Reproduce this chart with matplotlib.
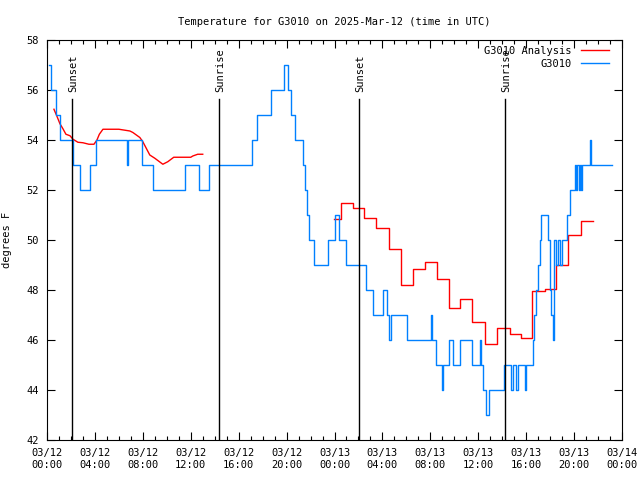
import matplotlib
matplotlib.use("Agg")
import matplotlib.pyplot as plt
import numpy as np

# hours since 03/12 00:00 UTC
obs_t = [0.17, 0.33, 0.75, 1.12, 2.17, 2.75, 3.58, 4.12, 6.67, 6.75, 7.92, 8.83,
         11.5, 12.71, 13.5, 17.12, 17.5, 18.67, 19.75, 20.08, 20.37, 20.71, 21.37,
         21.5, 21.67, 21.87, 22.25, 23.42, 24.08, 24.37, 24.92, 26.67, 27.25, 28.04,
         28.37, 28.58, 28.75, 30.08, 32.08, 32.17, 32.5, 33.0, 33.08, 33.58, 33.92,
         34.5, 35.5, 36.12, 36.21, 36.37, 36.62, 36.92, 38.17, 38.75, 38.87, 39.12,
         39.29, 39.87, 40.0, 40.54, 40.67, 40.83, 41.0, 41.12, 41.25, 41.79, 41.96,
         42.08, 42.21, 42.33, 42.5, 42.67, 42.83, 43.0, 43.37, 43.62, 44.08, 44.17,
         44.25, 44.37, 44.46, 44.58, 44.67, 45.29, 45.42, 47.17]
obs_v = [57, 56, 55, 54, 53, 52, 53, 54, 53, 54, 53, 52,
         53, 52, 53, 54, 55, 56, 57, 56, 55, 54, 53,
         52, 51, 50, 49, 50, 51, 50, 49, 48, 47, 48,
         47, 46, 47, 46, 47, 46, 45, 44, 45, 46, 45,
         46, 45, 46, 45, 44, 43, 44, 45, 44, 45, 44,
         45, 44, 45, 46, 47, 48, 49, 50, 51, 50, 48,
         47, 46, 50, 49, 50, 49, 50, 51, 52, 53, 52,
         53, 52, 53, 52, 53, 54, 53, 53]

# analysis, first day (smooth) and second day (hourly steps)
ana1_t = [0.58, 0.83, 1.08, 1.33, 1.58, 1.92, 2.17, 2.58, 3.0, 3.5, 3.92, 4.17, 4.37,
          4.67, 6.0, 6.92, 7.17, 7.75, 8.0, 8.58, 9.0, 9.67, 10.08, 10.58, 12.0,
          12.17, 12.58, 13.0]
ana1_v = [55.23, 54.95, 54.65, 54.45, 54.23, 54.17, 54.03, 53.91, 53.89, 53.83, 53.83,
          54.0, 54.23, 54.43, 54.43, 54.36, 54.3, 54.1, 53.93, 53.4, 53.27, 53.03,
          53.13, 53.31, 53.31, 53.36, 53.43, 53.43]
ana2_t = [23.92, 24.58, 25.58, 26.5, 27.5, 28.58, 29.54, 30.58, 31.58, 32.54, 33.52,
          34.46, 35.5, 36.58, 37.58, 38.62, 39.58, 40.52, 41.54, 42.5, 43.5, 44.58, 45.58]
ana2_v = [50.83, 51.47, 51.27, 50.9, 50.5, 49.63, 48.19, 48.83, 49.13, 48.44, 47.3,
          47.63, 46.72, 45.84, 46.47, 46.24, 46.07, 47.95, 48.03, 48.99, 50.2, 50.76, 50.76]

sun_t = [2.08, 14.35, 26.03, 38.27]
sun_lbl = ["Sunset", "Sunrise", "Sunset", "Sunrise"]

xtick_lbl = ["03/12\n00:00", "03/12\n04:00", "03/12\n08:00", "03/12\n12:00",
             "03/12\n16:00", "03/12\n20:00", "03/13\n00:00", "03/13\n04:00",
             "03/13\n08:00", "03/13\n12:00", "03/13\n16:00", "03/13\n20:00",
             "03/14\n00:00"]

plt.rcParams['font.family'] = ['DejaVu Sans Mono']
plt.rcParams['font.size'] = 7.5

fig = plt.figure(figsize=(6.4, 4.8), dpi=100)
ax = fig.add_axes([47/640, 40/480, 575/640, 400/480])

red = '#ff0000'
blue = '#0080ff'

ax.plot(ana1_t, ana1_v, color=red, lw=1, label="G3010 Analysis")
ax.plot(ana2_t, ana2_v, color=red, lw=1, drawstyle='steps-post')
ax.plot(obs_t, obs_v, color=blue, lw=1, drawstyle='steps-post', label="G3010")

for t, s in zip(sun_t, sun_lbl):
    ax.axvline(t, ymin=0, ymax=0.8525, color='black', lw=1)
    ax.text(t + 0.1, 55.9, s, rotation=90, ha='center', va='bottom', fontsize=7.5)

ax.set_xlim(0, 48)
ax.set_ylim(42, 58)
ax.set_xticks(np.arange(0, 49, 4))
ax.set_xticklabels(xtick_lbl)
ax.set_xticks(np.arange(0, 49, 1), minor=True)
ax.set_yticks(np.arange(42, 59, 2))
ax.tick_params(which='both', direction='in', top=True, right=True, width=0.8)
ax.tick_params(which='major', length=6, pad=6)
ax.tick_params(which='minor', length=3)
for sp in ax.spines.values():
    sp.set_linewidth(0.8)

ax.set_ylabel("degrees F", labelpad=10)
ax.set_title("Temperature for G3010 on 2025-Mar-12 (time in UTC)", fontsize=7.5, pad=11)

leg = ax.legend(loc='upper right', bbox_to_anchor=(0.979, 0.988), frameon=False,
                markerfirst=False, handlelength=2.7, handletextpad=0.9,
                borderaxespad=0, borderpad=0.1, labelspacing=0.3)
for txt in leg.get_texts():
    txt.set_ha('right')

plt.savefig("out.png", dpi=100)
